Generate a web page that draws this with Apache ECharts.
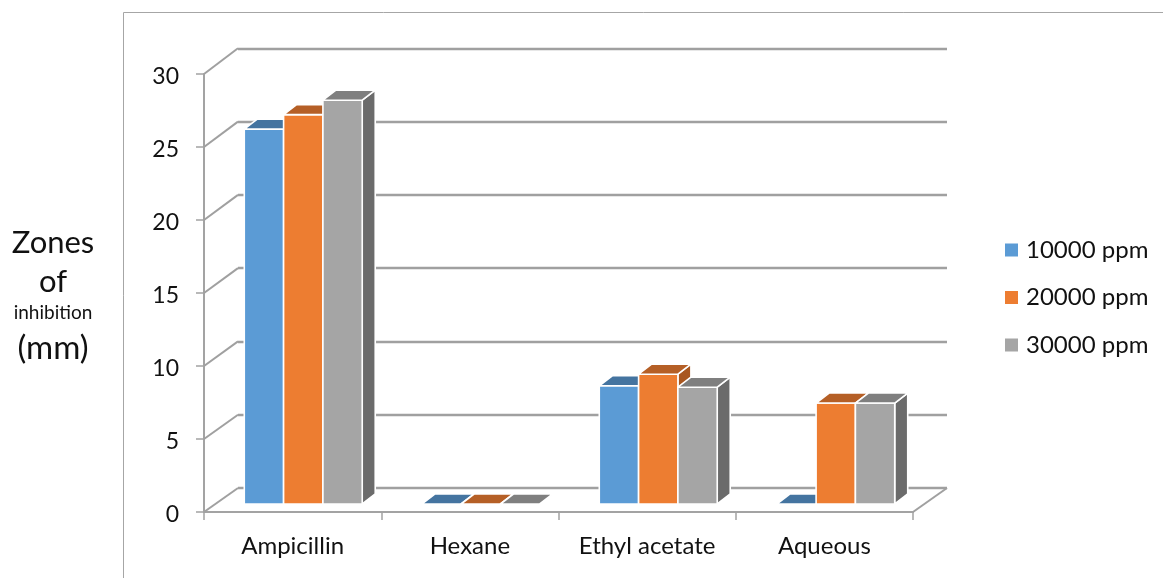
<!DOCTYPE html>
<html>
<head>
<meta charset="utf-8">
<style>html,body{margin:0;padding:0;background:#fff}#chart{width:1163px;height:578px}</style>
<script src="https://cdn.jsdelivr.net/npm/echarts@6/dist/echarts.min.js"></script>
</head>
<body>
<div id="chart"></div>
<script>
// Inhibition zones per extract and concentration
const categories = ['Ampicillin', 'Hexane', 'Ethyl acetate', 'Aqueous'];
const ppm10000 = [26, 0, 8.2, 0];
const ppm20000 = [27, 0, 9, 7];
const ppm30000 = [28, 0, 8.1, 7];
const yTicks = [0, 5, 10, 15, 20, 25, 30];

const FONT = 'Lato';
const AXIS_GREY = '#a3a3a3';
const WALL_GREY = '#a0a0a0';
const BAR_DEPTH = [13, -10];   // pixel offset of a bar's back face
const BAR_SHARE = 0.2215;      // bar width as a share of the category band

const chart = echarts.init(document.getElementById('chart'), null, { renderer: 'canvas' });

// Renders one 3D column: front face, top cap and right side
function column(slot, faces) {
  return function (params, api) {
    const cat = api.value(0), val = api.value(1);
    const base = api.coord([cat, 0]);
    const top = api.coord([cat, val]);
    const w = api.size([1, 0])[0] * BAR_SHARE;
    const x0 = base[0] + (slot - 1.5) * w, x1 = x0 + w;
    const [dx, dy] = BAR_DEPTH;
    const edge = { stroke: '#fff', lineWidth: 1.6, lineJoin: 'round' };
    const children = [];
    if (val > 0) {
      children.push({
        type: 'polygon',
        shape: { points: [[x1, top[1]], [x1 + dx, top[1] + dy], [x1 + dx, base[1] + dy], [x1, base[1]]] },
        style: Object.assign({ fill: faces.side }, edge)
      });
      children.push({
        type: 'rect',
        shape: { x: x0, y: top[1], width: w, height: base[1] - top[1] },
        style: Object.assign({ fill: faces.front }, edge)
      });
    }
    children.push({
      type: 'polygon',
      shape: { points: [[x0, top[1]], [x0 + dx, top[1] + dy], [x1 + dx, top[1] + dy], [x1, top[1]]] },
      style: Object.assign({ fill: faces.top }, edge)
    });
    return { type: 'group', children };
  };
}

// Diagonals joining the front axis to the back wall, plus the floor's right edge
function wallDiagonals(params, api) {
  const val = api.value(1);
  const front = api.coord([0, val]);
  const cs = params.coordSys;
  const left = cs.x;
  const backY = chart.convertToPixel({ yAxisIndex: 2 }, val);
  const backX = chart.convertToPixel({ xAxisIndex: 2 }, 0) - api.size([1, 0])[0] / 2;
  const style = { stroke: WALL_GREY, lineWidth: 2, fill: null };
  const children = [{
    type: 'line',
    shape: { x1: left, y1: front[1], x2: backX, y2: backY },
    style
  }];
  if (val === 0) {
    const shift = backX - left;
    children.push({
      type: 'line',
      shape: { x1: left + cs.width, y1: front[1], x2: left + cs.width + shift, y2: backY },
      style
    });
  }
  return { type: 'group', children };
}

function columnSeries(name, values, slot, faces) {
  return {
    name,
    type: 'custom',
    xAxisIndex: 1,
    yAxisIndex: 1,
    z: 5,
    itemStyle: { color: faces.front },
    renderItem: column(slot, faces),
    encode: { x: 0, y: 1 },
    data: values.map((v, i) => [i, v])
  };
}

function hiddenX(gridIndex) {
  return { type: 'category', gridIndex, data: categories, show: false };
}
function hiddenY(gridIndex) {
  return { type: 'value', gridIndex, min: 0, max: 30, interval: 5, axisLine: { show: false }, axisTick: { show: false }, axisLabel: { show: false }, splitLine: { show: false } };
}

const titleLine = (text, top, fontSize) => ({
  text, left: 53, top, textAlign: 'center', textVerticalAlign: 'middle', padding: 0,
  textStyle: { fontFamily: FONT, fontSize, fontWeight: 'normal', color: '#111' }
});

chart.setOption({
  animation: false,
  backgroundColor: '#fff',
  title: [
    titleLine('Zones', 243, 31),
    titleLine('of', 282, 31),
    titleLine('inhibition', 313, 19),
    titleLine('(mm)', 348, 33)
  ],
  legend: {
    orient: 'vertical',
    left: 1000,
    top: 233,
    itemWidth: 13,
    itemHeight: 13,
    itemGap: 23.5,
    icon: 'rect',
    data: ['10000 ppm', '20000 ppm', '30000 ppm'],
    textStyle: { fontFamily: FONT, fontSize: 24, color: '#111', padding: [0, 0, 0, 3] }
  },
  graphic: [
    // chart frame along the left and top
    { type: 'polyline', silent: true, shape: { points: [[123.5, 578], [123.5, 12.5], [1163, 12.5]] }, style: { stroke: '#a6a6a6', lineWidth: 1, fill: null } }
  ],
  grid: [
    { left: 204, top: 74, width: 709, height: 438 },     // front axes
    { left: 214.5, top: 71.4, width: 710, height: 432.6 }, // column plane
    { left: 238, top: 48.3, width: 709, height: 439.7 }  // back wall
  ],
  xAxis: [
    {
      type: 'category', gridIndex: 0, data: categories,
      axisLine: { lineStyle: { color: AXIS_GREY, width: 2 } },
      axisTick: { show: true, length: 8, alignWithLabel: false, lineStyle: { color: AXIS_GREY, width: 1.5 } },
      axisLabel: { interval: 0, margin: 22, fontFamily: FONT, fontSize: 24, color: '#111' }
    },
    hiddenX(1),
    hiddenX(2)
  ],
  yAxis: [
    {
      type: 'value', gridIndex: 0, min: 0, max: 30, interval: 5,
      axisLine: { show: true, lineStyle: { color: AXIS_GREY, width: 2 } },
      axisTick: { show: true, length: 8, lineStyle: { color: AXIS_GREY, width: 1.5 } },
      axisLabel: {
        margin: 25,
        formatter: '{v|{value}}',
        rich: { v: { fontFamily: FONT, fontSize: 23, color: '#111', padding: [5, 0, 0, 0] } }
      },
      splitLine: { show: false }
    },
    hiddenY(1),
    Object.assign(hiddenY(2), { splitLine: { show: true, lineStyle: { color: WALL_GREY, width: 2.4 } } })
  ],
  series: [
    {
      name: 'wall',
      type: 'custom',
      xAxisIndex: 0,
      yAxisIndex: 0,
      z: 1,
      silent: true,
      renderItem: wallDiagonals,
      encode: { x: 0, y: 1 },
      data: yTicks.map(v => [0, v])
    },
    columnSeries('10000 ppm', ppm10000, 0, { front: '#5b9bd5', top: '#4474a0', side: '#3f6f9b' }),
    columnSeries('20000 ppm', ppm20000, 1, { front: '#ed7d31', top: '#b55f26', side: '#a8561f' }),
    columnSeries('30000 ppm', ppm30000, 2, { front: '#a5a5a5', top: '#7f7f7f', side: '#6b6b6b' })
  ]
});
</script>
</body>
</html>
